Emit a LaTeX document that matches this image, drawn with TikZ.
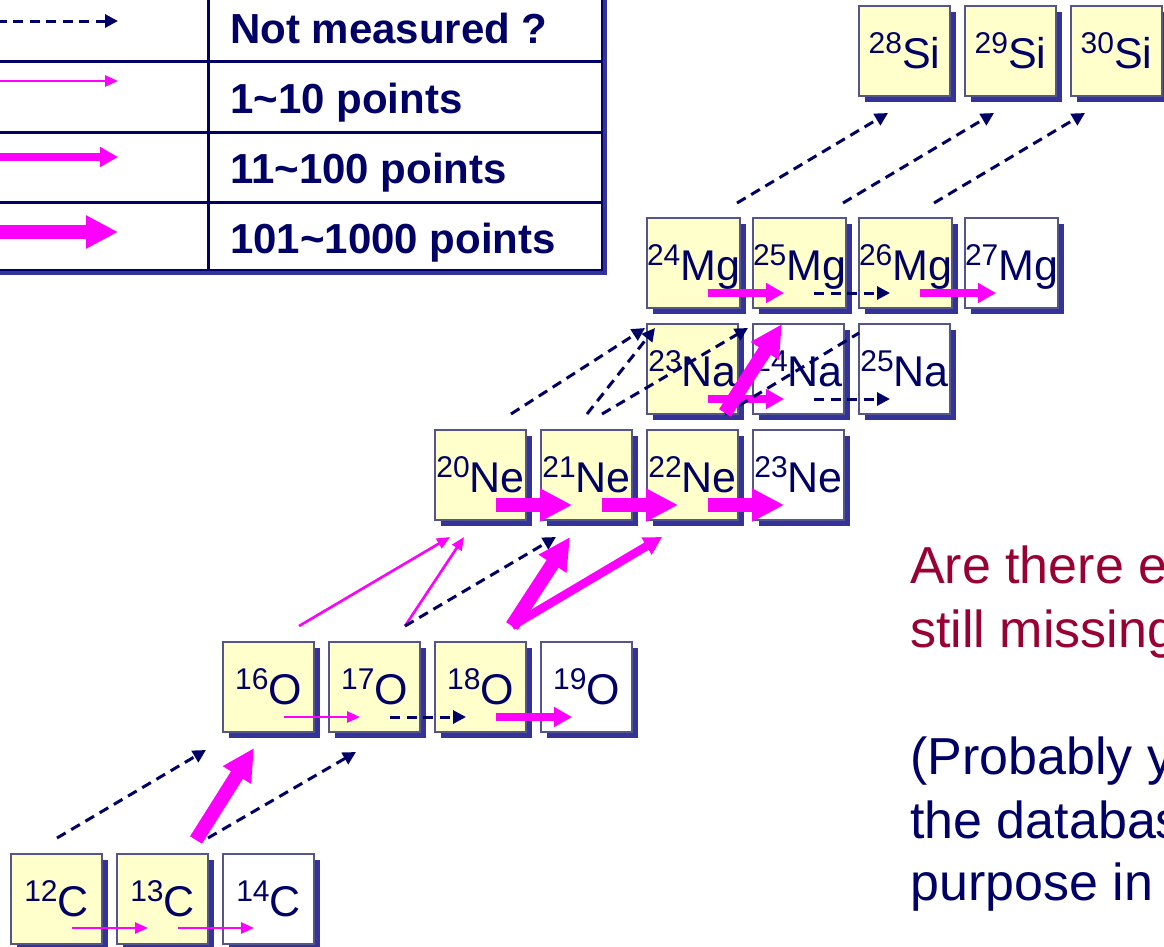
\documentclass[tikz,border=0pt]{standalone}
\usepackage{fontspec}
\setmainfont{Liberation Sans}
\usetikzlibrary{arrows.meta,shadows}
\definecolor{navy}{HTML}{000066}
\definecolor{boxyellow}{HTML}{FFFFCC}
\definecolor{boxline}{HTML}{55558C}
\definecolor{shadowblue}{HTML}{333399}
\definecolor{mag}{HTML}{FF00FF}
\definecolor{qred}{HTML}{990033}
\newcommand{\iso}[2]{\raisebox{15pt}{\fontsize{30}{30}\selectfont #1}{\fontsize{43}{43}\selectfont #2}}
\begin{document}
\begin{tikzpicture}[x=1pt,y=-1pt,
  isobox/.style={draw=boxline, line width=1.3pt, fill=#1, minimum width=91pt, minimum height=90pt,
    anchor=north west, inner sep=0pt, outer sep=0pt, text height=34pt, text depth=0pt, text=navy,
    drop shadow={shadow xshift=6pt, shadow yshift=-6pt, fill=shadowblue, opacity=1}},
  isobox/.default=boxyellow,
  dasharr/.style={draw=navy, line width=3pt, dash pattern=on 10pt off 6.5pt, -{Triangle[length=13pt,width=13pt]}},
  dashline/.style={draw=navy, line width=3pt, dash pattern=on 10pt off 6.5pt},
  thinarr/.style={draw=mag, line width=2.6pt, -{Triangle[length=13pt,width=11pt]}},
  medarr/.style={draw=mag, line width=8.5pt, -{Triangle[length=18pt,width=19pt]}},
  thickarr/.style={draw=mag, line width=14pt, -{Triangle[length=32pt,width=31pt]}},
  legtext/.style={anchor=base west, inner sep=0pt, text=navy, font=\fontsize{42}{42}\selectfont\bfseries},
  qtext/.style={anchor=base west, inner sep=0pt, font=\fontsize{52}{52}\selectfont}
]
\path[use as bounding box, clip] (0,0) rectangle (1164,946);

% legend table
\draw[navy, line width=1.6pt, fill=white, drop shadow={shadow xshift=5pt, shadow yshift=-5pt, fill=shadowblue, opacity=1}] (-20,-20) rectangle (602,270);
\draw[navy, line width=3pt] (-20,61) -- (602,61) (-20,132) -- (602,132) (-20,202) -- (602,202);
\draw[navy, line width=3pt] (208,-20) -- (208,270);
\node[legtext] (l1) at (230,43) {Not measured ?};
\node[legtext] (l2) at (230,113) {1\char`~10 points};
\node[legtext] (l3) at (230,183) {11\char`~100 points};
\node[legtext] (l4) at (230,253) {101\char`~1000 points};
\coordinate (la1) at (-20,21);  \coordinate (lb1) at (118,21);
\coordinate (la2) at (-20,81);  \coordinate (lb2) at (118,81);
\coordinate (la3) at (-20,157); \coordinate (lb3) at (118,157);
\coordinate (la4) at (-20,232); \coordinate (lb4) at (118,232);
\draw[dasharr] (la1) -- (lb1);
\draw[thinarr] (la2) -- (lb2);
\draw[medarr] (la3) -- (lb3);
\draw[thickarr] (la4) -- (lb4);

% isotope boxes
\node[isobox] (c12) at (11,854) {\iso{12}{C}};
\node[isobox] (c13) at (117,854) {\iso{13}{C}};
\node[isobox=white] (c14) at (223,854) {\iso{14}{C}};

\node[isobox] (o16) at (223,642) {\iso{16}{O}};
\node[isobox] (o17) at (329,642) {\iso{17}{O}};
\node[isobox] (o18) at (435,642) {\iso{18}{O}};
\node[isobox=white] (o19) at (541,642) {\iso{19}{O}};

\node[isobox] (ne20) at (435,430) {\iso{20}{Ne}};
\node[isobox] (ne21) at (541,430) {\iso{21}{Ne}};
\node[isobox] (ne22) at (647,430) {\iso{22}{Ne}};
\node[isobox=white] (ne23) at (753,430) {\iso{23}{Ne}};

\node[isobox] (na23) at (647,324) {\iso{23}{Na}};
\node[isobox=white] (na24) at (753,324) {\iso{24}{Na}};
\node[isobox=white] (na25) at (859,324) {\iso{25}{Na}};

\node[isobox] (mg24) at (647,218) {\iso{24}{Mg}};
\node[isobox] (mg25) at (753,218) {\iso{25}{Mg}};
\node[isobox] (mg26) at (859,218) {\iso{26}{Mg}};
\node[isobox=white] (mg27) at (965,218) {\iso{27}{Mg}};

\node[isobox] (si28) at (859,6) {\iso{28}{Si}};
\node[isobox] (si29) at (965,6) {\iso{29}{Si}};
\node[isobox] (si30) at (1071,6) {\iso{30}{Si}};

% horizontal arrows inside rows
\draw[thinarr] ([shift={(61,74)}]c12.north west) -- ([shift={(31,74)}]c13.north west);
\draw[thinarr] ([shift={(61,74)}]c13.north west) -- ([shift={(31,74)}]c14.north west);
\draw[thinarr] ([shift={(61,75)}]o16.north west) -- ([shift={(31,75)}]o17.north west);
\draw[dasharr] ([shift={(61,75)}]o17.north west) -- ([shift={(31,75)}]o18.north west);
\draw[medarr] ([shift={(61,75)}]o18.north west) -- ([shift={(31,75)}]o19.north west);
\draw[thickarr] ([shift={(61,75)}]ne20.north west) -- ([shift={(31,75)}]ne21.north west);
\draw[thickarr] ([shift={(61,75)}]ne21.north west) -- ([shift={(31,75)}]ne22.north west);
\draw[thickarr] ([shift={(61,75)}]ne22.north west) -- ([shift={(31,75)}]ne23.north west);
\draw[medarr] ([shift={(61,75)}]na23.north west) -- ([shift={(31,75)}]na24.north west);
\draw[dasharr] ([shift={(61,75)}]na24.north west) -- ([shift={(31,75)}]na25.north west);
\draw[medarr] ([shift={(61,75)}]mg24.north west) -- ([shift={(31,75)}]mg25.north west);
\draw[dasharr] ([shift={(61,75)}]mg25.north west) -- ([shift={(31,75)}]mg26.north west);
\draw[medarr] ([shift={(61,75)}]mg26.north west) -- ([shift={(31,75)}]mg27.north west);

% diagonal arrows
\draw[dasharr] ([shift={(46,-16)}]c12.north west) -- ([shift={(-17,108)}]o16.north west);
\draw[thickarr] ([shift={(79,-14)}]c13.north west) -- ([shift={(31,106)}]o16.north west);
\draw[dasharr] ([shift={(91,-16)}]c13.north west) -- ([shift={(27,110)}]o17.north west);
\draw[thinarr] ([shift={(76,-16)}]o16.north west) -- ([shift={(15,107)}]ne20.north west);
\draw[thinarr] ([shift={(76,-16)}]o17.north west) -- ([shift={(29,107)}]ne20.north west);
\draw[dasharr] ([shift={(76,-16)}]o17.north west) -- ([shift={(15,107)}]ne21.north west);
\draw[thickarr] ([shift={(77,-16)}]o18.north west) -- ([shift={(29,107)}]ne21.north west);
\draw[medarr] ([shift={(77,-16)}]o18.north west) -- ([shift={(15,107)}]ne22.north west);
\draw[dasharr] ([shift={(76,-16)}]ne20.north west) -- ([shift={(-2,110)}]mg24.north west);
\draw[dasharr] ([shift={(46,-16)}]ne21.north west) -- ([shift={(8,110)}]mg24.north west);
\draw[dasharr] ([shift={(61,-16)}]ne21.north west) -- ([shift={(-5,110)}]mg25.north west);
\draw[dashline] ([shift={(78,-16)}]ne22.north west) -- ([shift={(0,9)}]na25.north west);
\draw[thickarr] ([shift={(78,-17)}]ne22.north west) -- ([shift={(29,106)}]mg25.north west);
\draw[dasharr] ([shift={(90,-15)}]mg24.north west) -- ([shift={(29,107)}]si28.north west);
\draw[dasharr] ([shift={(90,-15)}]mg25.north west) -- ([shift={(29,107)}]si29.north west);
\draw[dasharr] ([shift={(75,-15)}]mg26.north west) -- ([shift={(14,107)}]si30.north west);

% right-hand text
\node[qtext, text=qred] (q1) at (910,583) {Are there e};
\node[qtext, text=qred] (q2) at (910,647) {still missing};
\node[qtext, text=navy] (p1) at (910,774) {(Probably y};
\node[qtext, text=navy] (p2) at (910,838) {the databas};
\node[qtext, text=navy] (p3) at (910,900) {purpose in};
\end{tikzpicture}
\end{document}
